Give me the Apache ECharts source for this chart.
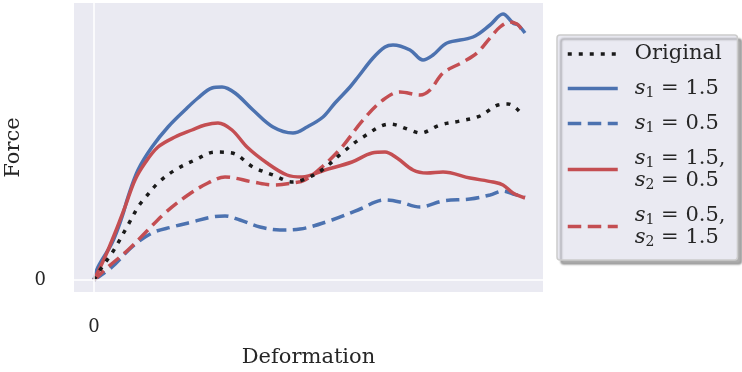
<!DOCTYPE html>
<html>
<head>
<meta charset="utf-8">
<script src="https://cdn.jsdelivr.net/npm/echarts@6/dist/echarts.min.js"></script>
<style>
  html, body { margin: 0; padding: 0; background: #ffffff; }
  #chart { width: 742px; height: 372px; }
</style>
</head>
<body>
<div id="chart"></div>
<script>
// Force–deformation curves, [deformation, force] pairs (arbitrary units)
const original = [[0,0],[6,10],[18,27],[24,37],[34,55],[44,73],[51,82],[64,97],[81,110],[101,120],[121,128],[138,127],[159,113],[179,105],[199,98],[211,101],[228,110],[248,127],[269,143],[296,156],[316,150],[326,147],[346,155],[366,159],[386,164],[404,175],[414,176],[423,171],[429,164]];
const s1High = [[0,0],[4,13],[18,37],[28,63],[34,83],[44,110],[58,133],[74,153],[91,170],[104,182],[118,192],[128,193],[141,187],[159,170],[179,153],[199,147],[213,153],[229,163],[241,177],[256,193],[264,203],[279,222],[291,233],[299,235],[316,230],[329,220],[339,225],[353,237],[379,243],[396,255],[409,266],[419,257],[424,255],[431,247]];
const s1Low = [[0,0],[18,13],[38,33],[58,47],[78,53],[98,58],[118,63],[131,64],[146,60],[166,53],[186,50],[206,51],[238,60],[264,70],[291,80],[306,78],[326,73],[349,79],[376,81],[396,85],[409,89],[419,86],[431,83]];
const s1HighS2Low = [[0,0],[11,23],[21,47],[31,73],[41,100],[51,117],[64,133],[81,143],[98,150],[111,155],[124,157],[138,150],[153,133],[173,117],[193,105],[208,103],[231,110],[258,118],[278,127],[291,128],[303,122],[319,110],[333,107],[349,108],[376,102],[399,98],[409,95],[419,87],[431,82]];
const s1LowS2High = [[0,0],[14,13],[34,30],[51,47],[71,67],[94,85],[114,97],[131,103],[159,98],[179,95],[199,97],[211,100],[228,113],[248,133],[269,160],[289,180],[306,188],[326,185],[336,190],[349,207],[369,218],[383,227],[396,242],[406,253],[416,258],[423,256],[426,253],[429,248]];

const seriesNames = ['Original', 's1 = 1.5', 's1 = 0.5', 's1 = 1.5, s2 = 0.5', 's1 = 0.5, s2 = 1.5'];
const legendLabels = {
  'Original': 'Original',
  's1 = 1.5': '{s|s}{b|1} = 1.5',
  's1 = 0.5': '{s|s}{b|1} = 0.5',
  's1 = 1.5, s2 = 0.5': '{s|s}{b|1} = 1.5,\n{s|s}{b|2} = 0.5',
  's1 = 0.5, s2 = 1.5': '{s|s}{b|1} = 0.5,\n{s|s}{b|2} = 1.5'
};
const tickLabels = ['0'];

const BLUE = '#4C72B0';
const RED = '#C44E52';
const BLACK = '#1a1a1a';
const FONT = 'DejaVu Serif';
const TEXT = '#262626';
const DASHED = [13.5, 6.5];
const DOTTED = [4, 7];

function curve(name, data, color, type, z) {
  return {
    name: name,
    type: 'line',
    data: data,
    smooth: 0.35,
    symbol: 'none',
    z: z,
    animation: false,
    lineStyle: { color: color, width: 3.5, type: type, cap: 'butt' },
    itemStyle: { color: color }
  };
}

const chart = echarts.init(document.getElementById('chart'), null, { renderer: 'canvas' });
chart.setOption({
  animation: false,
  grid: {
    left: 74, top: 3, width: 469, height: 289,
    containLabel: false, outerBoundsMode: 'none',
    show: true, backgroundColor: '#EAEAF2', borderWidth: 0
  },
  xAxis: {
    type: 'value', min: -20, max: 449, interval: 20,
    axisLine: { show: false }, axisTick: { show: false }, splitLine: { show: false },
    axisLabel: {
      customValues: [0], margin: 26,
      formatter: v => (v === 0 ? tickLabels[0] : ''),
      fontFamily: FONT, fontSize: 18, color: TEXT
    },
    name: 'Deformation', nameLocation: 'middle', nameGap: 55,
    nameTextStyle: { fontFamily: FONT, fontSize: 21, color: TEXT }
  },
  yAxis: {
    type: 'value', min: -12, max: 277, interval: 12,
    axisLine: { show: false }, axisTick: { show: false }, splitLine: { show: false },
    axisLabel: {
      customValues: [0], margin: 28,
      formatter: v => (v === 0 ? tickLabels[0] : ''),
      fontFamily: FONT, fontSize: 18, color: TEXT
    },
    name: 'Force', nameLocation: 'middle', nameGap: 43,
    nameTextStyle: { fontFamily: FONT, fontSize: 21, color: TEXT }
  },
  legend: {
    orient: 'vertical',
    left: 557, top: 35,
    data: seriesNames,
    itemWidth: 50, itemHeight: 14, itemGap: 12,
    padding: [8, 12, 11, 9],
    backgroundColor: '#EAEAF2',
    borderColor: '#CCCCCC', borderWidth: 1.5, borderRadius: 3,
    shadowColor: 'rgba(0,0,0,0.32)', shadowBlur: 2, shadowOffsetX: 4, shadowOffsetY: 4,
    itemStyle: { opacity: 0 },
    lineStyle: { width: 3.5, cap: 'butt' },
    formatter: n => legendLabels[n],
    textStyle: {
      fontFamily: FONT, fontSize: 21, color: TEXT, lineHeight: 22,
      padding: [0, 0, 0, 12],
      rich: {
        s: { fontFamily: FONT, fontSize: 21, fontStyle: 'italic', color: TEXT, lineHeight: 22 },
        b: { fontFamily: FONT, fontSize: 14, color: TEXT, padding: [9, 0, 0, 0], lineHeight: 22 }
      }
    }
  },
  series: [
    {
      name: 'grid', type: 'line', data: [], z: 1, silent: true,
      markLine: {
        silent: true, symbol: 'none', animation: false,
        label: { show: false },
        lineStyle: { color: '#ffffff', width: 1.5, type: 'solid' },
        data: [{ xAxis: 0 }, { yAxis: 0 }]
      }
    },
    curve('s1 = 1.5', s1High, BLUE, 'solid', 2),
    curve('s1 = 0.5', s1Low, BLUE, DASHED, 2),
    curve('s1 = 1.5, s2 = 0.5', s1HighS2Low, RED, 'solid', 2),
    curve('s1 = 0.5, s2 = 1.5', s1LowS2High, RED, DASHED, 2),
    curve('Original', original, BLACK, DOTTED, 3)
  ]
});
</script>
</body>
</html>
